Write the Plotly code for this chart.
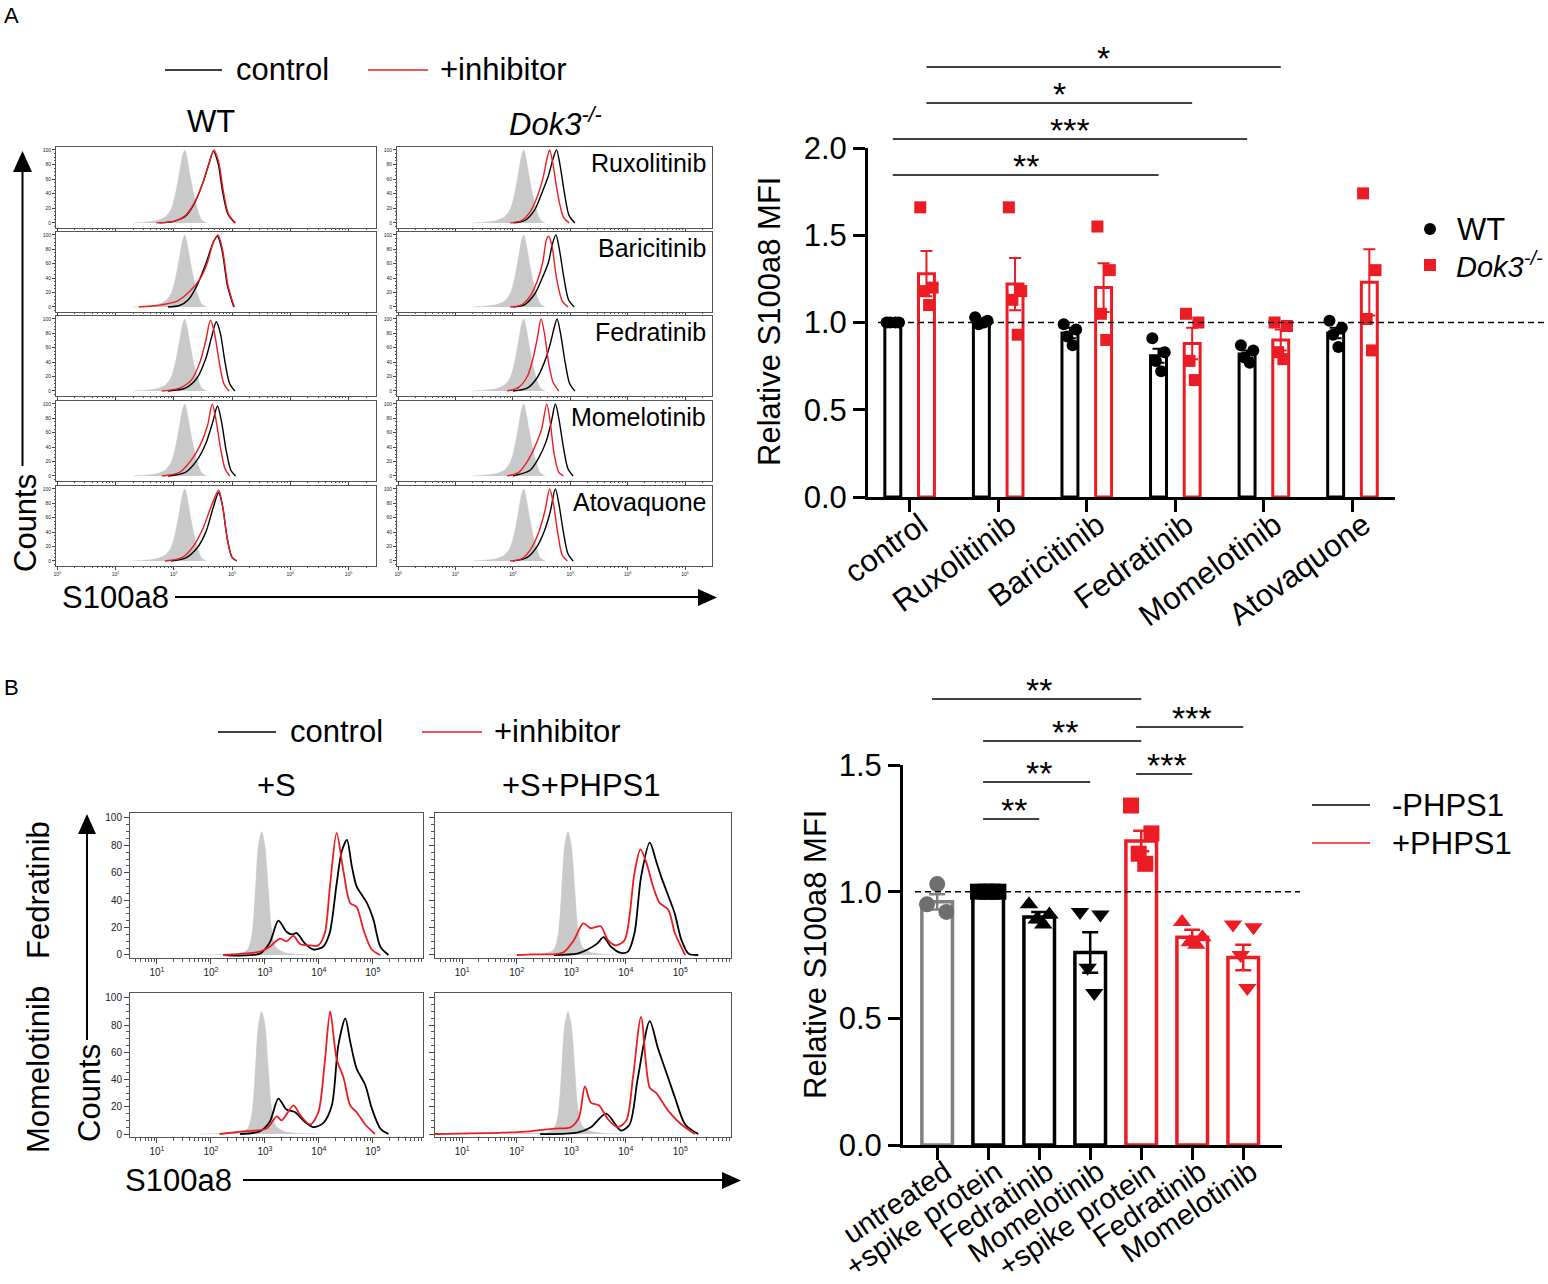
import math
import plotly.graph_objects as go

W, H = 1548, 1284
RED = "#EC1C24"
GREY = "#808080"
GREY_FILL = "#C9C9C9"
FONT = "Arial, 'Liberation Sans', sans-serif"

# ── Panel A: flow histograms (log10 S100a8, % of max) ────────────────────────
DRUGS = ["Ruxolitinib", "Baricitinib", "Fedratinib", "Momelotinib", "Atovaquone"]

A_UNSTAINED_LOG = [1.3, 1.5, 1.7, 1.85, 1.95, 2.03, 2.1, 2.15, 2.19, 2.23, 2.28, 2.34, 2.41, 2.48, 2.56]
A_UNSTAINED_Y = [0, 1, 3, 8, 18, 40, 70, 92, 100, 88, 65, 40, 18, 4, 0]

A_WT_CONTROL = {
    "Ruxolitinib": ([1.75, 2.0, 2.2, 2.35, 2.5, 2.6, 2.68, 2.76, 2.84, 2.93, 3.05],
                    [0, 2, 9, 26, 55, 80, 98, 82, 42, 12, 0]),
    "Baricitinib": ([1.9, 2.1, 2.25, 2.4, 2.55, 2.68, 2.75, 2.83, 2.92, 3.03],
                    [0, 2, 10, 30, 60, 90, 98, 78, 30, 0]),
    "Fedratinib": ([1.9, 2.2, 2.4, 2.55, 2.65, 2.73, 2.8, 2.88, 2.96, 3.05],
                   [0, 4, 18, 45, 75, 96, 80, 40, 10, 0]),
    "Momelotinib": ([1.9, 2.2, 2.4, 2.55, 2.67, 2.75, 2.82, 2.9, 2.98, 3.06],
                    [0, 5, 22, 45, 75, 97, 75, 35, 8, 0]),
    "Atovaquone": ([1.95, 2.2, 2.4, 2.55, 2.67, 2.77, 2.84, 2.92, 3.0, 3.08],
                   [0, 4, 18, 40, 72, 95, 75, 30, 5, 0]),
}
A_WT_INHIB = {
    "Ruxolitinib": ([1.7, 2.0, 2.2, 2.35, 2.5, 2.6, 2.69, 2.77, 2.85, 2.94, 3.06],
                    [0, 2, 10, 27, 55, 80, 100, 84, 44, 12, 0]),
    "Baricitinib": ([1.4, 1.72, 2.06, 2.28, 2.46, 2.58, 2.68, 2.76, 2.84, 2.93, 3.04],
                    [0, 2, 8, 22, 40, 62, 90, 100, 78, 30, 0]),
    "Fedratinib": ([1.8, 2.1, 2.3, 2.45, 2.55, 2.63, 2.7, 2.78, 2.86, 2.95],
                   [0, 4, 15, 40, 70, 98, 80, 40, 10, 0]),
    "Momelotinib": ([1.8, 2.1, 2.3, 2.45, 2.58, 2.66, 2.72, 2.8, 2.88, 2.96],
                    [0, 5, 22, 42, 70, 100, 80, 40, 10, 0]),
    "Atovaquone": ([1.85, 2.15, 2.35, 2.5, 2.64, 2.77, 2.84, 2.92, 3.0, 3.08],
                   [0, 5, 22, 45, 75, 98, 75, 30, 5, 0]),
}
A_DOK3_CONTROL = {
    "Ruxolitinib": ([2.0, 2.2, 2.38, 2.5, 2.62, 2.7, 2.76, 2.82, 2.9, 2.98, 3.08],
                    [0, 3, 18, 40, 65, 88, 100, 80, 40, 10, 0]),
    "Baricitinib": ([2.0, 2.2, 2.38, 2.5, 2.62, 2.69, 2.75, 2.81, 2.89, 2.97, 3.07],
                    [0, 3, 18, 38, 62, 88, 100, 80, 40, 10, 0]),
    "Fedratinib": ([2.0, 2.25, 2.42, 2.55, 2.65, 2.72, 2.77, 2.83, 2.91, 2.99, 3.08],
                   [0, 4, 18, 40, 65, 88, 100, 80, 40, 10, 0]),
    "Momelotinib": ([2.0, 2.3, 2.45, 2.58, 2.67, 2.74, 2.8, 2.88, 2.96, 3.05],
                    [0, 8, 25, 48, 75, 100, 80, 40, 10, 0]),
    "Atovaquone": ([2.0, 2.25, 2.42, 2.55, 2.65, 2.74, 2.8, 2.88, 2.96, 3.05],
                   [0, 5, 20, 42, 68, 100, 80, 40, 10, 0]),
}
A_DOK3_INHIB = {
    "Ruxolitinib": ([1.95, 2.15, 2.3, 2.42, 2.52, 2.6, 2.64, 2.7, 2.78, 2.88, 2.98],
                    [0, 3, 15, 35, 60, 90, 100, 80, 40, 8, 0]),
    "Baricitinib": ([1.95, 2.15, 2.3, 2.42, 2.52, 2.58, 2.62, 2.68, 2.76, 2.86, 2.96],
                    [0, 3, 15, 35, 62, 92, 98, 85, 40, 8, 0]),
    "Fedratinib": ([1.9, 2.1, 2.25, 2.35, 2.43, 2.49, 2.55, 2.62, 2.7, 2.8],
                   [0, 5, 20, 45, 75, 100, 80, 40, 12, 0]),
    "Momelotinib": ([1.9, 2.1, 2.25, 2.38, 2.5, 2.59, 2.65, 2.72, 2.8, 2.88],
                    [0, 5, 20, 40, 65, 100, 75, 30, 5, 0]),
    "Atovaquone": ([1.95, 2.15, 2.3, 2.45, 2.56, 2.64, 2.7, 2.78, 2.86, 2.95],
                   [0, 3, 15, 40, 70, 100, 82, 40, 8, 0]),
}

# ── Panel A: relative MFI bars ───────────────────────────────────────────────
A_CATS = ["control"] + DRUGS
A_WT_MEAN = [1.00, 1.01, 0.94, 0.81, 0.82, 0.94]
A_WT_SEM = [0.0, 0.01, 0.03, 0.04, 0.02, 0.03]
A_WT_POINTS = [[1.0, 1.0, 1.0, 1.0], [1.03, 1.01, 0.99, 1.0], [0.99, 0.96, 0.92, 0.87],
               [0.91, 0.83, 0.78, 0.72], [0.87, 0.84, 0.80, 0.77], [1.01, 0.97, 0.93, 0.86]]
A_DOK3_MEAN = [1.28, 1.22, 1.20, 0.88, 0.90, 1.23]
A_DOK3_SEM = [0.13, 0.15, 0.14, 0.09, 0.06, 0.19]
A_DOK3_POINTS = [[1.66, 1.20, 1.18, 1.10], [1.66, 1.18, 1.13, 0.93], [1.55, 1.30, 1.05, 0.90],
                 [1.05, 1.00, 0.78, 0.67], [1.00, 0.98, 0.83, 0.79], [1.74, 1.30, 1.02, 0.84]]
A_SIG = [(0, 1, 4, 1, "*"), (0, 1, 3, 1, "*"), (0, -1, 4, -1, "***"), (0, -1, 3, -1, "**")]

# ── Panel B: flow histograms ─────────────────────────────────────────────────
B_ROWS_LBL = ["Fedratinib", "Momelotinib"]
B_COLS_LBL = ["+S", "+S+PHPS1"]
B_UNSTAINED_LOG = [1.8, 2.3, 2.54, 2.68, 2.76, 2.82, 2.88, 2.94, 3.0, 3.06, 3.12, 3.2, 3.35, 3.6, 4.0]
B_UNSTAINED_Y = [0, 0.5, 1, 4, 15, 45, 80, 90, 80, 50, 20, 6, 2, 0.5, 0]

B_CONTROL = {
    ("Fedratinib", "+S"): (
        [2.23, 2.91, 3.09, 3.25, 3.4, 3.5, 3.59, 3.74, 3.9, 4.08, 4.2, 4.33, 4.42, 4.52, 4.61, 4.7, 4.89, 5.01, 5.14, 5.29],
        [0, 1, 9, 25, 17, 15, 16, 8.5, 4, 6, 16, 52, 75, 84, 65, 50, 38, 26, 6, 0]),
    ("Fedratinib", "+S+PHPS1"): (
        [2.68, 3.11, 3.3, 3.48, 3.59, 3.73, 3.91, 4.04, 4.16, 4.28, 4.44, 4.56, 4.65, 4.81, 4.9, 5.02, 5.15, 5.33],
        [0, 1, 4, 8.5, 13, 6, 1.5, 2.5, 16, 57, 82, 68, 57, 40, 30, 11, 1, 0]),
    ("Momelotinib", "+S"): (
        [2.54, 2.91, 3.09, 3.25, 3.4, 3.56, 3.74, 3.9, 4.08, 4.24, 4.36, 4.49, 4.58, 4.7, 4.86, 4.98, 5.14, 5.29],
        [0, 2, 9, 26, 18, 16, 9, 5, 8, 21, 65, 85, 68, 48, 36, 19, 4, 0]),
    ("Momelotinib", "+S+PHPS1"): (
        [2.43, 3.11, 3.36, 3.64, 3.91, 4.07, 4.22, 4.44, 4.59, 4.78, 4.9, 5.09, 5.33],
        [0, 1, 5, 15, 2.5, 7, 41, 83, 63, 41, 27, 7, 0]),
}
B_INHIB = {
    ("Fedratinib", "+S"): (
        [2.23, 2.91, 3.09, 3.28, 3.4, 3.53, 3.65, 3.84, 3.99, 4.11, 4.21, 4.33, 4.46, 4.58, 4.7, 4.83, 4.98, 5.14],
        [0, 2.5, 6, 12, 10, 14, 8, 7, 7, 16, 52, 89, 60, 38, 35, 18, 4, 0]),
    ("Fedratinib", "+S+PHPS1"): (
        [2.0, 2.31, 2.68, 2.86, 3.05, 3.22, 3.36, 3.54, 3.67, 3.82, 3.98, 4.16, 4.27, 4.38, 4.5, 4.62, 4.78, 4.9, 5.09],
        [0, 0.5, 0.5, 2, 11, 23, 19.5, 21, 11, 7, 11, 60, 77, 67, 50, 38, 33, 16, 0]),
    ("Momelotinib", "+S"): (
        [2.16, 2.6, 3.03, 3.22, 3.31, 3.53, 3.65, 3.84, 3.99, 4.11, 4.21, 4.33, 4.46, 4.58, 4.7, 4.86, 5.04],
        [0, 2, 4, 13, 10, 21, 14, 7, 16, 53, 90, 55, 41, 21, 16, 7, 0]),
    ("Momelotinib", "+S+PHPS1"): (
        [0.5, 1.75, 2.25, 2.68, 2.99, 3.14, 3.25, 3.36, 3.51, 3.67, 3.85, 4.01, 4.13, 4.28, 4.44, 4.56, 4.78, 5.02, 5.27],
        [0, 1, 2, 4, 5, 12, 35, 23, 21, 11, 5, 10, 41, 86, 34, 30, 17, 7, 0]),
}

# ── Panel B: relative MFI bars ───────────────────────────────────────────────
B_CATS = ["untreated", "+spike protein", "Fedratinib", "Momelotinib",
          "+spike protein", "Fedratinib", "Momelotinib"]
B_GROUP = ["grey", "black", "black", "black", "red", "red", "red"]
B_SYMBOL = ["circle", "square", "triangle-up", "triangle-down", "square", "triangle-up", "triangle-down"]
B_MEAN = [0.96, 1.00, 0.90, 0.76, 1.20, 0.82, 0.74]
B_SEM = [0.03, 0.0, 0.02, 0.08, 0.04, 0.03, 0.05]
B_POINTS = [[1.03, 0.95, 0.92], [1.0, 1.0, 1.0, 1.0], [0.95, 0.91, 0.89, 0.87],
            [0.92, 0.91, 0.70, 0.60], [1.34, 1.23, 1.15, 1.11], [0.88, 0.82, 0.80, 0.79],
            [0.87, 0.86, 0.75, 0.62]]
B_SIG = [(0, 4, "**"), (1, 4, "**"), (1, 3, "**"), (1, 2, "**"), (4, 6, "***"), (4, 5, "***")]


# ── helpers ──────────────────────────────────────────────────────────────────
def px(x):
    return x / W


def py(y):
    return 1 - y / H


def P(x, y):
    return f"{px(x):.5f},{py(y):.5f}"


def names(n):
    s = "" if n == 1 else str(n)
    return "x" + s, "y" + s, "xaxis" + s, "yaxis" + s


fig = go.Figure()
layout = dict(
    width=W, height=H, margin=dict(l=0, r=0, t=0, b=0, pad=0, autoexpand=False),
    paper_bgcolor="white", plot_bgcolor="white", showlegend=False,
    barmode="overlay", font=dict(family=FONT, color="black"),
)
shapes, annots = [], []


def text(x, y, s, size=31, xanchor="center", yanchor="middle", angle=0, color="black"):
    annots.append(dict(x=px(x), y=py(y), xref="paper", yref="paper", text=s, showarrow=False,
                       font=dict(family=FONT, size=size, color=color),
                       xanchor=xanchor, yanchor=yanchor, textangle=angle))


def hline(x0, x1, y, color="black", width=1.5):
    shapes.append(dict(type="line", xref="paper", yref="paper", x0=px(x0), x1=px(x1),
                       y0=py(y), y1=py(y), line=dict(color=color, width=width)))


def vline(x, y0, y1, color="black", width=1.5):
    shapes.append(dict(type="line", xref="paper", yref="paper", x0=px(x), x1=px(x),
                       y0=py(y0), y1=py(y1), line=dict(color=color, width=width)))


def tri(pts):
    path = "M " + " L ".join(P(x, y) for x, y in pts) + " Z"
    shapes.append(dict(type="path", xref="paper", yref="paper", path=path,
                       fillcolor="black", line=dict(width=0)))


def minor_log(lo, hi):
    return [k + math.log10(m) for k in range(lo, hi) for m in range(2, 10)]


def add_hist(n, xdom, ydom, xr, yr, grey, ctrl, inh, show_x, show_y, tick_size, lw, tlen):
    xa, ya, xk, yk = names(n)
    xs, ys = grey
    fig.add_trace(go.Scatter(x=xs, y=ys, mode="lines", fill="tozeroy", fillcolor=GREY_FILL,
                             line=dict(color=GREY_FILL, width=0.5, shape="spline", smoothing=0.8),
                             xaxis=xa, yaxis=ya, hoverinfo="skip"))
    for (xv, yv), col in ((ctrl, "black"), (inh, RED)):
        fig.add_trace(go.Scatter(x=xv, y=yv, mode="lines",
                                 line=dict(color=col, width=lw, shape="spline", smoothing=0.8),
                                 xaxis=xa, yaxis=ya))
    layout[xk] = dict(
        domain=[px(xdom[0]), px(xdom[1])], anchor=ya, range=xr, automargin=False,
        showline=True, mirror=True, linecolor="#555", linewidth=1,
        showgrid=False, zeroline=False, ticks="outside", ticklen=tlen, tickwidth=1,
        tickvals=[0, 1, 2, 3, 4, 5],
        ticktext=[f"10<sup>{k}</sup>" if show_x else "" for k in range(6)],
        tickfont=dict(size=tick_size, color="#222"),
        minor=dict(ticks="outside", ticklen=max(tlen - 2, 1), tickwidth=0.8,
                   tickvals=minor_log(0, 6), tickcolor="#555"),
    )
    layout[yk] = dict(
        domain=[py(ydom[1]), py(ydom[0])], anchor=xa, range=yr, automargin=False,
        showline=True, mirror=True, linecolor="#555", linewidth=1,
        showgrid=False, zeroline=False, ticks="outside", ticklen=tlen, tickwidth=1,
        tickvals=[0, 20, 40, 60, 80, 100], showticklabels=show_y,
        tickfont=dict(size=tick_size, color="#222"),
        minor=dict(ticks="outside", ticklen=max(tlen - 2, 1), tickwidth=0.8, dtick=5, tickcolor="#555"),
    )


# ── Panel A histograms ───────────────────────────────────────────────────────
A_ROWS = [(147, 228), (232, 312), (316, 396), (401, 481), (486, 566)]
A_COLS = [(56, 376), (397, 712)]
for r, drug in enumerate(DRUGS):
    for c in range(2):
        n = 1 + r * 2 + c
        ctrl = (A_WT_CONTROL if c == 0 else A_DOK3_CONTROL)[drug]
        inh = (A_WT_INHIB if c == 0 else A_DOK3_INHIB)[drug]
        add_hist(n, A_COLS[c], A_ROWS[r], [-0.02, 5.47], [-7, 104],
                 (A_UNSTAINED_LOG, A_UNSTAINED_Y), ctrl, inh,
                 show_x=(r == 4), show_y=True, tick_size=5, lw=1.4, tlen=3)
    text(708, A_ROWS[r][0] + 16, drug, size=25, xanchor="right")

# ── Panel A bars ─────────────────────────────────────────────────────────────
OFF_A = 0.19
JIT_A = [-0.07, 0.07, -0.03, 0.03]
xa, ya, xk, yk = names(11)
for mean, sem, pts, side, col, sym in (
        (A_WT_MEAN, A_WT_SEM, A_WT_POINTS, -1, "black", "circle"),
        (A_DOK3_MEAN, A_DOK3_SEM, A_DOK3_POINTS, 1, RED, "square")):
    xs = [i + side * OFF_A for i in range(len(A_CATS))]
    fig.add_trace(go.Bar(x=xs, y=mean, width=0.18, xaxis=xa, yaxis=ya,
                         marker=dict(color="white", line=dict(color=col, width=3)),
                         error_y=dict(type="data", array=sem, color=col, thickness=2, width=6)))
    px_, py_ = [], []
    for i, grp in enumerate(pts):
        for j, v in enumerate(grp):
            px_.append(xs[i] + JIT_A[j])
            py_.append(v)
    fig.add_trace(go.Scatter(x=px_, y=py_, mode="markers", xaxis=xa, yaxis=ya,
                             marker=dict(symbol=sym, size=12, color=col, line=dict(width=0))))
layout[xk] = dict(domain=[px(868), px(1395)], anchor=ya, range=[-0.47, 5.48], automargin=False,
                  showline=True, linecolor="black", linewidth=3, showgrid=False, zeroline=False,
                  ticks="outside", ticklen=12, tickwidth=3, tickcolor="black",
                  tickvals=list(range(len(A_CATS))), ticktext=A_CATS, tickangle=-36,
                  tickfont=dict(size=31), ticklabelstandoff=-17, ticklabelshift=11)
layout[yk] = dict(domain=[py(497), py(148)], anchor=xa, range=[0, 2.0], automargin=False,
                  showline=True, linecolor="black", linewidth=3, showgrid=False, zeroline=False,
                  ticks="outside", ticklen=12, tickwidth=3, tickcolor="black",
                  tickvals=[0, 0.5, 1.0, 1.5, 2.0], tickformat=".1f", tickfont=dict(size=31))
shapes.append(dict(type="line", xref="paper", yref=ya, x0=px(878), x1=px(1545), y0=1, y1=1,
                   line=dict(color="black", width=1.5, dash="6px,4px")))
for (i0, s0, i1, s1, lbl), ylev in zip(A_SIG, [67, 103, 139, 175]):
    x0, x1 = i0 + s0 * OFF_A, i1 + s1 * OFF_A
    shapes.append(dict(type="line", xref=xa, yref="paper", x0=x0, x1=x1, y0=py(ylev), y1=py(ylev),
                       line=dict(color="black", width=1.5)))
    annots.append(dict(x=(x0 + x1) / 2, y=py(ylev + 12), xref=xa, yref="paper", text=lbl,
                       showarrow=False, font=dict(size=34), yanchor="bottom"))
text(770, 322, "Relative S100a8 MFI", angle=-90)

# Panel A labels, legends, arrows
text(2, 15, "A", size=22, xanchor="left")
hline(165, 222, 70, "black", 1.5)
text(234, 70, "control", xanchor="left")
hline(368, 428, 70, RED, 1.5)
text(438, 70, "+inhibitor", xanchor="left")
text(211, 122, "WT")
text(555, 122, "<i>Dok3<sup>-/-</sup></i>")
vline(22.5, 466, 168, width=2)
tri([(13, 172), (32, 172), (22.5, 151)])
text(25, 523, "Counts", angle=-90)
text(60, 597, "S100a8", xanchor="left")
hline(175, 700, 597, width=2)
tri([(698, 589), (698, 606), (717, 597.5)])
shapes.append(dict(type="circle", xref="paper", yref="paper", x0=px(1424), x1=px(1436),
                   y0=py(235), y1=py(223), fillcolor="black", line=dict(width=0)))
shapes.append(dict(type="rect", xref="paper", yref="paper", x0=px(1424), x1=px(1436),
                   y0=py(271), y1=py(259), fillcolor=RED, line=dict(width=0)))
text(1455, 229, "WT", xanchor="left")
text(1454, 265, "<i>Dok3<sup>-/-</sup></i>", size=29, xanchor="left")

# ── Panel B histograms ───────────────────────────────────────────────────────
B_ROWS = [(813, 958), (993, 1137)]
B_COLS = [(130, 423), (435, 731)]
for r, rl in enumerate(B_ROWS_LBL):
    for c, cl in enumerate(B_COLS_LBL):
        n = 12 + r * 2 + c
        add_hist(n, B_COLS[c], B_ROWS[r], [0.5, 5.93], [-2.2, 103.6],
                 (B_UNSTAINED_LOG, B_UNSTAINED_Y), B_CONTROL[(rl, cl)], B_INHIB[(rl, cl)],
                 show_x=True, show_y=(c == 0), tick_size=10, lw=1.8, tlen=5)

# ── Panel B bars ─────────────────────────────────────────────────────────────
COLORS_B = {"grey": GREY, "black": "black", "red": RED}
JIT_B = {3: [0.0, -0.2, 0.18], 4: [-0.2, 0.2, -0.05, 0.08]}
xa, ya, xk, yk = names(16)
for grp in ("grey", "black", "red"):
    idx = [i for i, g in enumerate(B_GROUP) if g == grp]
    col = COLORS_B[grp]
    fig.add_trace(go.Bar(x=idx, y=[B_MEAN[i] for i in idx], width=0.6, xaxis=xa, yaxis=ya,
                         marker=dict(color="white", line=dict(color=col, width=3.5)),
                         error_y=dict(type="data", array=[B_SEM[i] for i in idx],
                                      color=col, thickness=2.5, width=8)))
    for i in idx:
        pts = B_POINTS[i]
        jit = JIT_B[len(pts)]
        fig.add_trace(go.Scatter(x=[i + jit[j] for j in range(len(pts))], y=pts, mode="markers",
                                 xaxis=xa, yaxis=ya,
                                 marker=dict(symbol=B_SYMBOL[i], size=16,
                                             color="#6E6E6E" if grp == "grey" else col,
                                             line=dict(width=0))))
layout[xk] = dict(domain=[px(903), px(1282)], anchor=ya, range=[-0.67, 6.76], automargin=False,
                  showline=True, linecolor="black", linewidth=3, showgrid=False, zeroline=False,
                  ticks="outside", ticklen=12, tickwidth=3, tickcolor="black",
                  tickvals=list(range(len(B_CATS))), ticktext=B_CATS, tickangle=-34,
                  tickfont=dict(size=29), ticklabelstandoff=-16, ticklabelshift=8)
layout[yk] = dict(domain=[py(1145), py(765)], anchor=xa, range=[0, 1.5], automargin=False,
                  showline=True, linecolor="black", linewidth=3, showgrid=False, zeroline=False,
                  ticks="outside", ticklen=12, tickwidth=3, tickcolor="black",
                  tickvals=[0, 0.5, 1.0, 1.5], tickformat=".1f", tickfont=dict(size=31))
shapes.append(dict(type="line", xref="paper", yref=ya, x0=px(915), x1=px(1300), y0=1, y1=1,
                   line=dict(color="black", width=1.5, dash="6px,4px")))
for (i0, i1, lbl), ylev in zip(B_SIG, [699, 741, 782, 819, 727, 774]):
    shapes.append(dict(type="line", xref=xa, yref="paper", x0=i0 - 0.1, x1=i1 + 0.0,
                       y0=py(ylev), y1=py(ylev), line=dict(color="black", width=1.5)))
    annots.append(dict(x=(i0 + i1) / 2, y=py(ylev + 12), xref=xa, yref="paper", text=lbl,
                       showarrow=False, font=dict(size=34), yanchor="bottom"))
text(815, 955, "Relative S100a8 MFI", angle=-90)

# Panel B labels, legends, arrows
text(2, 688, "B", size=22, xanchor="left")
hline(218, 276, 732, "black", 1.5)
text(288, 732, "control", xanchor="left")
hline(422, 482, 732, RED, 1.5)
text(492, 732, "+inhibitor", xanchor="left")
text(276, 785, "+S")
text(581, 785, "+S+PHPS1")
text(38, 890, "Fedratinib", angle=-90)
text(38, 1070, "Momelotinib", angle=-90)
vline(87, 1040, 832, width=2)
tri([(78, 834), (96, 834), (87, 814)])
text(89, 1093, "Counts", angle=-90)
text(123, 1180, "S100a8", xanchor="left")
hline(243, 724, 1180, width=2)
tri([(722, 1172), (722, 1189), (741, 1180.5)])
hline(1312, 1370, 805, "black", 1.5)
text(1390, 805, "-PHPS1", xanchor="left")
hline(1312, 1370, 843, RED, 1.5)
text(1390, 843, "+PHPS1", xanchor="left")

layout["shapes"] = shapes
layout["annotations"] = annots
fig.update_layout(**layout)
# the page's default 8px body margin would push the figure off its intended origin
fig.write_html("out.html", config={"displayModeBar": False},
               post_script="document.body.style.margin='0px';")
